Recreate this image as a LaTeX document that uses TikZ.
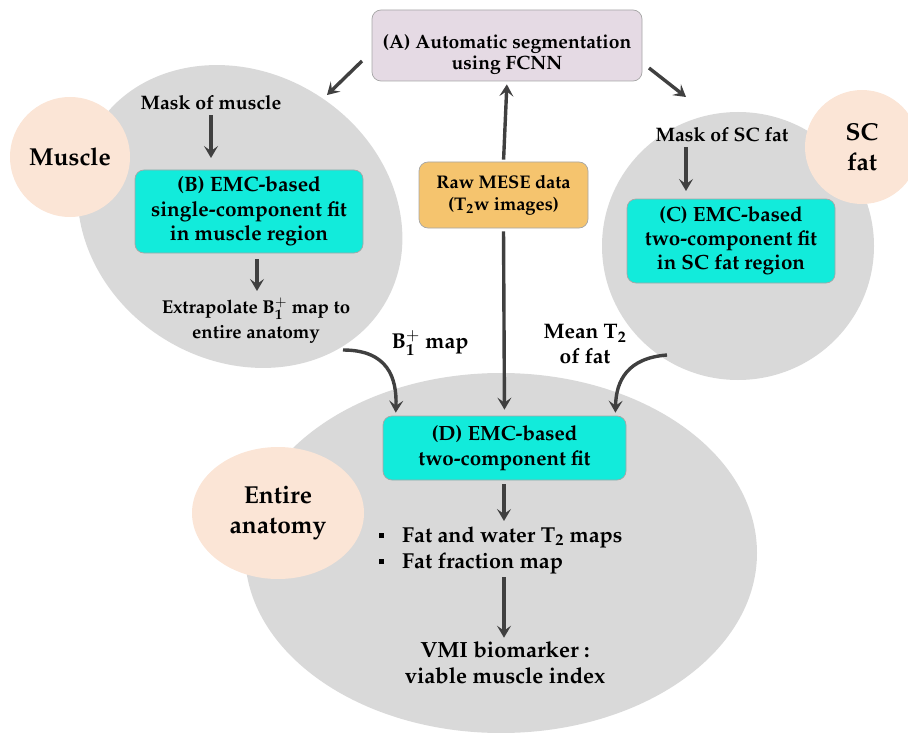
\documentclass[tikz,border=0pt]{standalone}
\usepackage[T1]{fontenc}
\usepackage{mathpazo}
\usetikzlibrary{arrows.meta,calc,shapes.geometric}
\definecolor{ellgray}{HTML}{D9D9D9}
\definecolor{peach}{HTML}{FBE5D6}
\definecolor{cyanbox}{HTML}{12EBDB}
\definecolor{orangebox}{HTML}{F5C46E}
\definecolor{lavender}{HTML}{E5DAE4}
\definecolor{arrowgray}{HTML}{404040}
\definecolor{boxborder}{HTML}{A6A6A6}
\newcommand{\fs}[2]{\fontsize{#1}{#2}\selectfont}
\tikzset{
  box/.style={rounded corners=9pt, draw=boxborder, line width=0.7pt, align=center, inner sep=0pt},
  lbl/.style={align=center, inner sep=1pt},
  biglbl/.style={align=center, inner sep=0pt, font=\bfseries\fs{24.5}{30}},
  arr/.style={draw=arrowgray, line width=3.4pt, -{Stealth[length=12pt,width=14pt,inset=5pt]}}
}
\begin{document}
\begin{tikzpicture}[x=1pt,y=-1pt]
\useasboundingbox (0,0) rectangle (908,733);
% gray regions
\fill[ellgray] (240,216.5) ellipse[x radius=169, y radius=144, rotate=-32];
\fill[ellgray] (738,246) ellipse[x radius=136, y radius=134];
\fill[ellgray] (501,553) ellipse[x radius=256, y radius=180];
% peach region labels
\node[biglbl, fill=peach, circle, minimum size=120pt] (muscle) at (70,157) {Muscle};
\node[biglbl, fill=peach, circle, minimum size=114pt] (scfat) at (862,147) {SC\\fat};
\node[biglbl, fill=peach, ellipse, minimum width=172pt, minimum height=132pt] (entire) at (278,513) {Entire\\anatomy};
% boxes
\node[box, fill=lavender, minimum width=270pt, minimum height=71pt] (A) at (507,45.5) {};
\node[lbl, font=\bfseries\fs{19.3}{21}] (Atext) at (507,54.5) {(A) Automatic segmentation\\using FCNN};
\node[box, fill=orangebox, minimum width=169pt, minimum height=66pt, font=\bfseries\fs{18.3}{22}] (raw) at (503.5,195) {Raw MESE data\\(T$_{\mathbf{2}}$w images)};
\node[box, fill=cyanbox, minimum width=228pt, minimum height=83pt, font=\bfseries\fs{20.8}{24.5}] (B) at (249,211.5) {(B) EMC-based\\single-component fit\\in muscle region};
\node[box, fill=cyanbox, minimum width=208pt, minimum height=84pt, font=\bfseries\fs{20.6}{24}] (C) at (731,241) {(C) EMC-based\\two-component fit\\in SC fat region};
\node[box, fill=cyanbox, minimum width=243pt, minimum height=64pt, font=\bfseries\fs{20.6}{25}] (D) at (504.5,448) {(D) EMC-based\\two-component fit};
% text labels
\node[lbl, font=\bfseries\fs{19.5}{22}] (maskM) at (211,103) {Mask of muscle};
\node[lbl, font=\bfseries\fs{19.5}{22}] (maskS) at (722,135) {Mask of SC fat};
\node[lbl, font=\bfseries\fs{18.6}{25}] (extrap) at (256,320.5) {Extrapolate B$_{\mathbf{1}}^{+}$ map to\\entire anatomy};
\node[lbl, font=\bfseries\fs{21.5}{25}] (b1lbl) at (430,343) {B$_{\mathbf{1}}^{+}$ map};
\node[lbl, font=\bfseries\fs{21}{25}] (meant) at (585,344.5) {Mean T$_{\mathbf{2}}$\\of fat};
\node[lbl, anchor=west, font=\bfseries\fs{21.6}{26}] (bul1) at (378,537) {\rule[4pt]{5pt}{5pt}\hspace{18pt}Fat and water T$_{\mathbf{2}}$ maps};
\node[lbl, anchor=west, font=\bfseries\fs{21.6}{26}] (bul2) at (378,563) {\rule[4pt]{5pt}{5pt}\hspace{18pt}Fat fraction map};
\node[lbl, font=\bfseries\fs{22}{26}] (vmi) at (505,663) {VMI biomarker :\\viable muscle index};
% arrow end coordinates
\coordinate (aLs) at (362,61);
\coordinate (aLe) at (327,95);
\coordinate (aRs) at (649,68);
\coordinate (aRe) at (686,97);
\coordinate (mTip) at (211,158);
\coordinate (exTip) at (257,291);
\coordinate (cTip) at (686,191);
\coordinate (bTip) at (504,521);
\coordinate (vS) at (504,577);
\coordinate (b1s) at (343,350);
\coordinate (t2s) at (667,355);
% arrows
\draw[arr] (aLs) -- (aLe);
\draw[arr] (aRs) -- (aRe);
\draw[arr, shorten <=2pt, shorten >=3pt] (raw.north) -- (A.south);
\draw[arr, shorten <=3pt, shorten >=6pt] (raw.south) -- (D.north);
\draw[arr, shorten <=4pt] (maskM.south -| mTip) -- (mTip);
\draw[arr, shorten <=6pt] (B.south -| exTip) -- (exTip);
\draw[arr, shorten <=4pt] (maskS.south -| cTip) -- (cTip);
\draw[arr, shorten <=4pt] (D.south -| bTip) -- (bTip);
\draw[arr, shorten >=3pt] (vS) -- (vS |- vmi.north);
\draw[arr, shorten >=3pt] (b1s) .. controls (388,350) and (397,378) .. ([xshift=13pt]D.north west);
\draw[arr, shorten >=3pt] (t2s) .. controls (628,358) and (616,380) .. ([xshift=-11pt]D.north east);
\end{tikzpicture}
\end{document}
